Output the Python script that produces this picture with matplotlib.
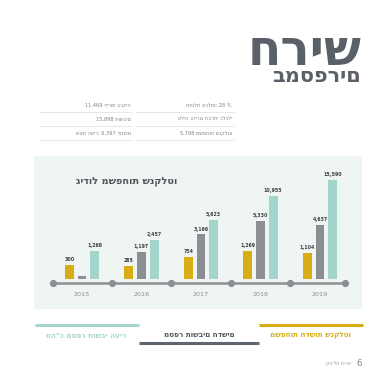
import numpy as np
import matplotlib
matplotlib.use("Agg")
import matplotlib.pyplot as plt
from matplotlib.patches import Rectangle
from matplotlib.lines import Line2D

# ---------------- data ----------------
years = ["2015", "2016", "2017", "2018", "2019"]
new_families = [300, 285, 754, 1269, 1104]
new_residents = [10, 1197, 3166, 5330, 4637]
new_residents_labels = [None, "1,197", "3,166", "5,330", "4,637"]
total_residents = [1268, 2457, 5623, 10955, 15590]

title_main = "חריש"
title_sub = "במספרים"
chart_title = "גידול משפחות שנקלטו"
legend_labels = ["משפחות חדשות שנקלטו", "מספר תושבים חדשים", "סה\"כ מספר תושבי העיר"]
facts_right = ["תחולת אכלוס: 28 %", "עליה בדירוג חברתי כלכלי", "5,798 משפחות שנקלטו"]
facts_left = ["11,469 דירות בבנייה", "15,898 תושבים", "שטח העיר: 6,397 דונמים"]
footer_text = "קהילת חריש"
page_no = "6"

# ---------------- style ----------------
GOLD = "#d8ad16"
GRAY = "#8b8f93"
TEAL = "#a4d5cd"
DARK = "#5a6067"
PANEL = "#eef5f3"

plt.rcParams['font.family'] = ['DejaVu Sans']

W = H = 380.0
fig = plt.figure(figsize=(3.8, 3.8), dpi=100)
fig.patch.set_facecolor("white")


def fx(x):
    return x / W


def fy(y):
    return 1 - y / H


# titles
fig.text(fx(362), fy(65), title_main, ha="right", va="baseline",
         fontsize=35, fontweight="bold", color=DARK)
fig.text(fx(361), fy(82), title_sub, ha="right", va="baseline",
         fontsize=15, fontweight="bold", color=DARK)

# facts rows
row_y = [105, 119, 133]
for i, y in enumerate(row_y):
    fig.text(fx(131), fy(y), facts_left[i], ha="right", va="center",
             fontsize=3.6, color="#7c8186")
    fig.text(fx(232), fy(y), facts_right[i], ha="right", va="center",
             fontsize=3.6, color="#7c8186")
    ly = y + 7
    fig.add_artist(Line2D([fx(40), fx(132)], [fy(ly), fy(ly)], color="#dfe5e4", lw=0.6))
    fig.add_artist(Line2D([fx(136), fx(234)], [fy(ly), fy(ly)], color="#dfe5e4", lw=0.6))

# panel
fig.add_artist(Rectangle((fx(34), fy(309)), fx(362) - fx(34), fy(156) - fy(309),
                         transform=fig.transFigure, facecolor=PANEL, edgecolor="none", zorder=0))

# chart axes
x0 = 82.0
dx = 59.5
ax_left, ax_right = 35.0, 362.0
ax_bottom, ax_top = 279.0, 156.0
ax = fig.add_axes([fx(ax_left), fy(ax_bottom), (ax_right - ax_left) / W, (ax_bottom - ax_top) / H])
ax.set_facecolor("none")
ax.set_xlim((ax_left - x0) / dx, (ax_right - x0) / dx)
ax.set_yscale("function", functions=(lambda v: np.sqrt(np.clip(v, 0, None)), lambda v: np.square(v)))
ymax = (np.sqrt(15590) * (ax_bottom - ax_top) / 99.0) ** 2
ax.set_ylim(0, ymax)
for s in ax.spines.values():
    s.set_visible(False)
ax.set_xticks([])
ax.set_yticks([])
ax.minorticks_off()

pos = np.arange(len(years))
bw = 0.15
off = 0.212
series = [
    (new_families, GOLD, -off, [f"{v:,}" for v in new_families]),
    (new_residents, GRAY, 0.0, new_residents_labels),
    (total_residents, TEAL, off, [f"{v:,}" for v in total_residents]),
]
for vals, col, o, labs in series:
    bars = ax.bar(pos + o, vals, width=bw, color=col, zorder=3)
    for b, lab in zip(bars, labs):
        if lab is None:
            continue
        ax.annotate(lab, (b.get_x() + b.get_width() / 2, b.get_height()),
                    xytext=(0, 2.0), textcoords="offset points", ha="center", va="bottom",
                    fontsize=3.4, fontweight="bold", color="#3d4247", annotation_clip=False)

# baseline with dots
trans = ax.get_xaxis_transform()
base_y = -(283.0 - ax_bottom) / (ax_bottom - ax_top)
xa = (53.0 - x0) / dx
xb = (345.0 - x0) / dx
ax.plot([xa, xb], [base_y, base_y], color="#8c9094", lw=1.8, transform=trans,
        clip_on=False, zorder=2, solid_capstyle="butt")
dots = np.concatenate([[xa], pos[:-1] + 0.5, [xb]])
ax.plot(dots, [base_y] * len(dots), "o", color="#8c9094", ms=4.2, transform=trans,
        clip_on=False, zorder=2)
year_y = -(294.0 - ax_bottom) / (ax_bottom - ax_top)
for p, yr in zip(pos, years):
    ax.text(p, year_y, yr, transform=trans, ha="center", va="center",
            fontsize=4.6, color="#8a8f93")

# chart title
fig.text(fx(177), fy(181), chart_title, ha="right", va="center",
         fontsize=7, fontweight="bold", color="#4f555b")

# legend
fig.add_artist(Line2D([fx(259), fx(363)], [fy(324.7), fy(324.7)], color=GOLD, lw=2.2, solid_capstyle="butt"))
fig.add_artist(Line2D([fx(139), fx(259)], [fy(343.3), fy(343.3)], color="#60666d", lw=2.2, solid_capstyle="butt"))
fig.add_artist(Line2D([fx(35), fx(139)], [fy(324.7), fy(324.7)], color=TEAL, lw=2.2, solid_capstyle="butt"))
fig.text(fx(311), fy(335), legend_labels[0], ha="center", va="center",
         fontsize=5.2, fontweight="bold", color=GOLD)
fig.text(fx(199), fy(335), legend_labels[1], ha="center", va="center",
         fontsize=5.2, fontweight="bold", color="#4f555b")
fig.text(fx(86.5), fy(335), legend_labels[2], ha="center", va="center",
         fontsize=5.2, fontweight="bold", color=TEAL)

# footer
fig.text(fx(362), fy(364), page_no, ha="right", va="center", fontsize=6, color="#7c8186")
fig.text(fx(351), fy(364), footer_text, ha="right", va="center", fontsize=3.4, color="#9aa0a4")

fig.savefig("out.png", dpi=100)
